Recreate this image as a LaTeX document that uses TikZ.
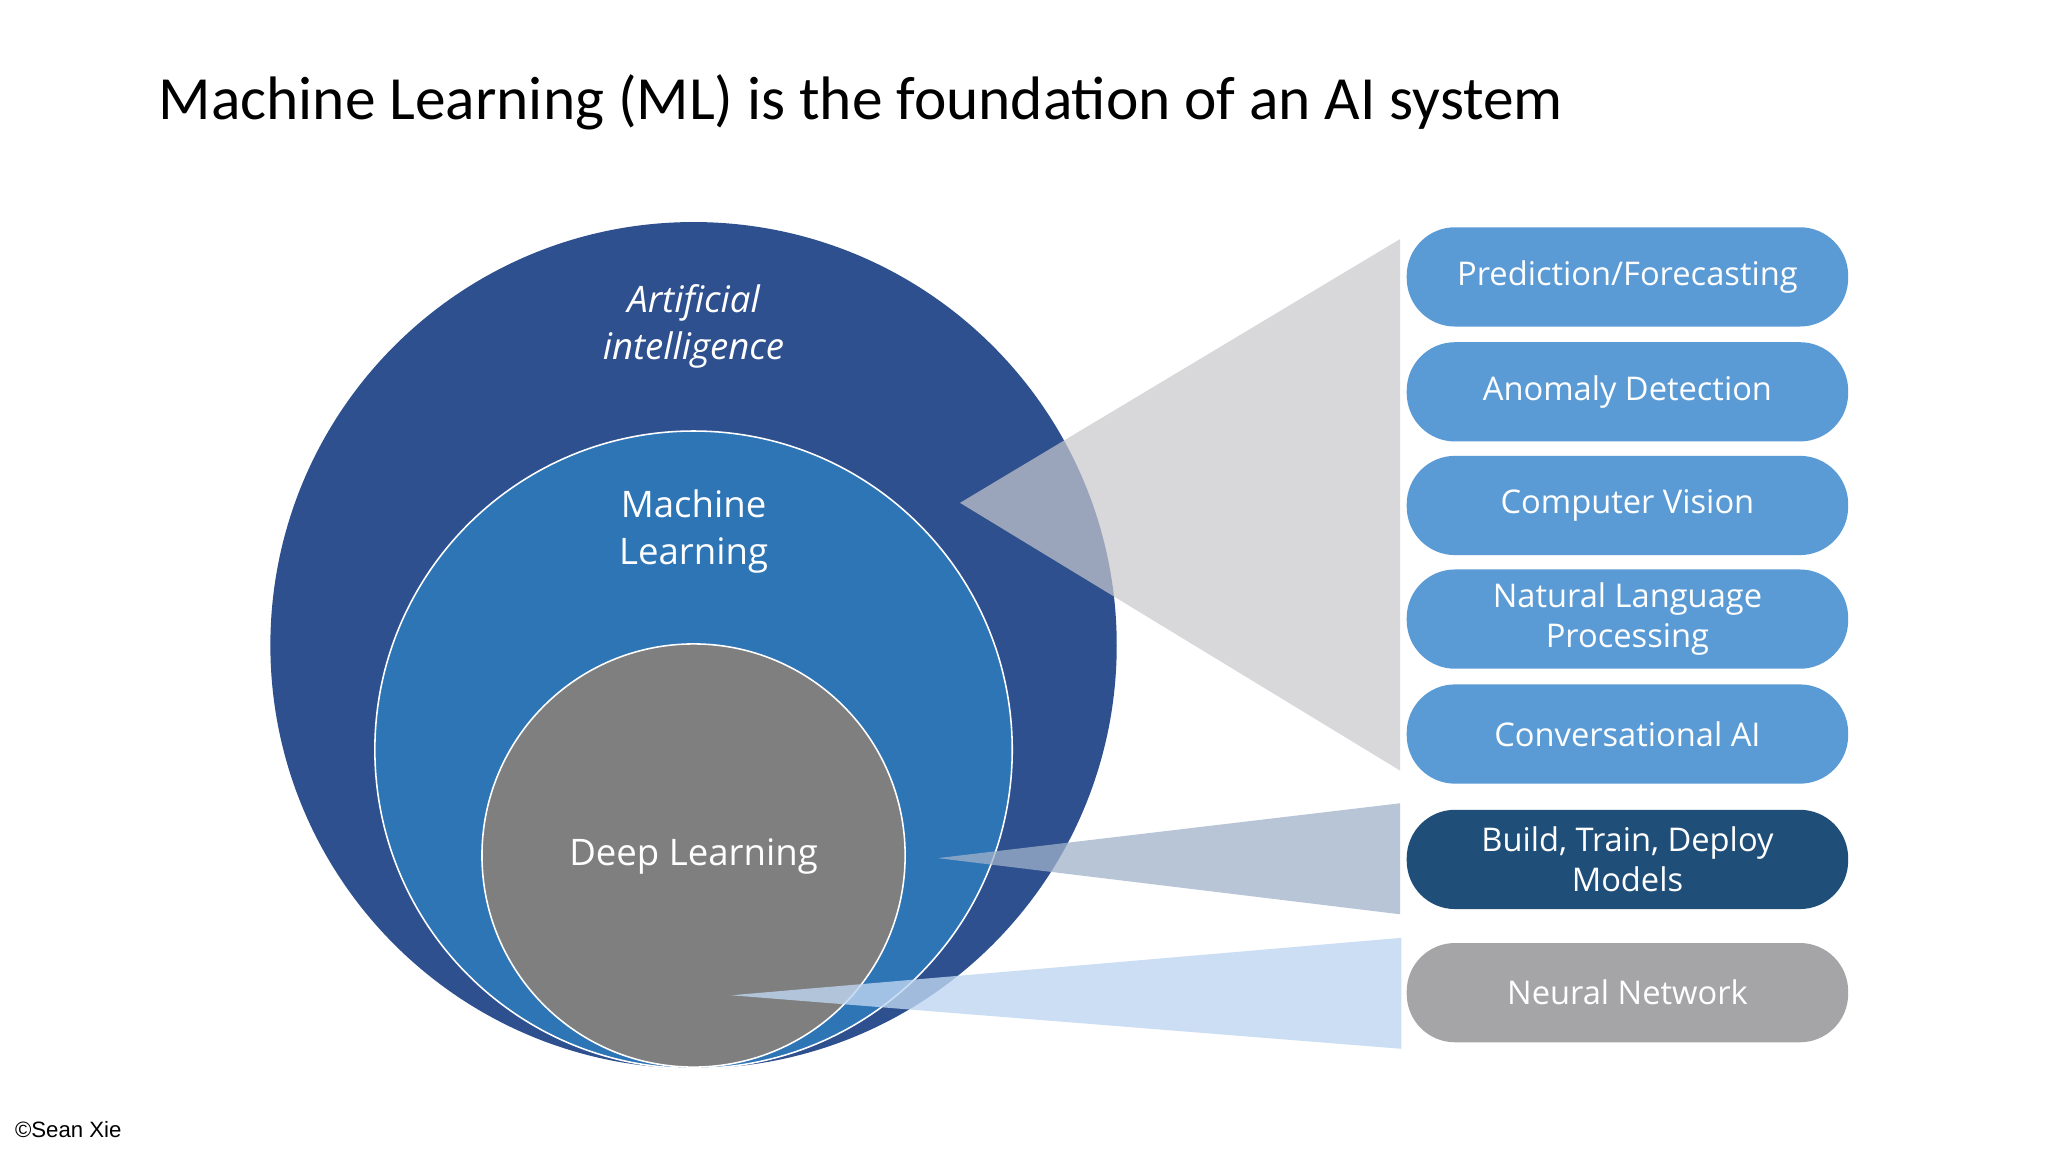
\documentclass[tikz,border=0pt]{standalone}
\usepackage{fontspec}
\setmainfont{Carlito}
\newfontfamily\opensans{Open Sans}
\definecolor{aiC}{RGB}{46,80,143}
\definecolor{mlC}{RGB}{46,117,182}
\definecolor{dlC}{RGB}{127,127,128}
\definecolor{triG}{RGB}{200,200,205}
\definecolor{triD}{RGB}{160,178,202}
\definecolor{triB}{RGB}{190,214,240}
\definecolor{pillC}{RGB}{91,155,213}
\definecolor{pillD}{RGB}{31,78,121}
\definecolor{pillG}{RGB}{165,165,168}
\begin{document}
\begin{tikzpicture}[x=1pt,y=-1pt,
  circ/.style={circle,draw=white,line width=1.2pt,inner sep=0pt},
  pill/.style={rounded corners=37pt,minimum width=338pt,minimum height=76pt,text=white,font=\opensans\fontsize{25}{28}\selectfont,align=center,inner sep=0pt},
  lbl/.style={text=white,font=\opensans\fontsize{28}{36}\selectfont,align=center}]
\useasboundingbox[fill=white] (0,0) rectangle (1568,882);
\node[anchor=west,font=\fontsize{47}{56}\selectfont] (title) at (118,78) {Machine Learning (ML) is the foundation of an AI system};
\node[circ,fill=aiC,draw=none,minimum size=648pt] (ai) at (531,494) {};
\node[circ,fill=mlC,minimum size=488pt] (ml) at (531,574) {};
\node[circ,fill=dlC,minimum size=324pt] (dl) at (531,655) {};
\node[lbl,font=\opensans\itshape\fontsize{28}{36}\selectfont] (ailbl) at (531,250) {Artificial\\intelligence};
\node[lbl] (mllbl) at (531,407) {Machine\\Learning};
\node[lbl] (dllbl) at (531,656) {Deep Learning};
\coordinate (g0) at (735,385); \coordinate (g1) at (1072,183); \coordinate (g2) at (1072,590);
\fill[triG,opacity=0.7] (g0) -- (g1) -- (g2) -- cycle;
\coordinate (d0) at (718,657); \coordinate (d1) at (1072,615); \coordinate (d2) at (1072,700);
\fill[triD,opacity=0.75] (d0) -- (d1) -- (d2) -- cycle;
\coordinate (b0) at (560,762); \coordinate (b1) at (1073,718); \coordinate (b2) at (1073,803);
\fill[triB,opacity=0.8] (b0) -- (b1) -- (b2) -- cycle;
\node[pill,fill=pillC] (p1) at (1246,212) {Prediction/Forecasting};
\node[pill,fill=pillC] (p2) at (1246,300) {Anomaly Detection};
\node[pill,fill=pillC] (p3) at (1246,387) {Computer Vision};
\node[pill,fill=pillC,font=\opensans\fontsize{25}{31}\selectfont] (p4) at (1246,474) {Natural Language\\Processing};
\node[pill,fill=pillC] (p5) at (1246,562) {Conversational AI};
\node[pill,fill=pillD,font=\opensans\fontsize{25}{31}\selectfont] (p6) at (1246,658) {Build, Train, Deploy\\Models};
\node[pill,fill=pillG] (p7) at (1246,760) {Neural Network};
\node[anchor=west,font=\fontspec{Liberation Sans}\fontsize{17}{20}\selectfont] (copy) at (8,865) {©Sean Xie};
\end{tikzpicture}
\end{document}
